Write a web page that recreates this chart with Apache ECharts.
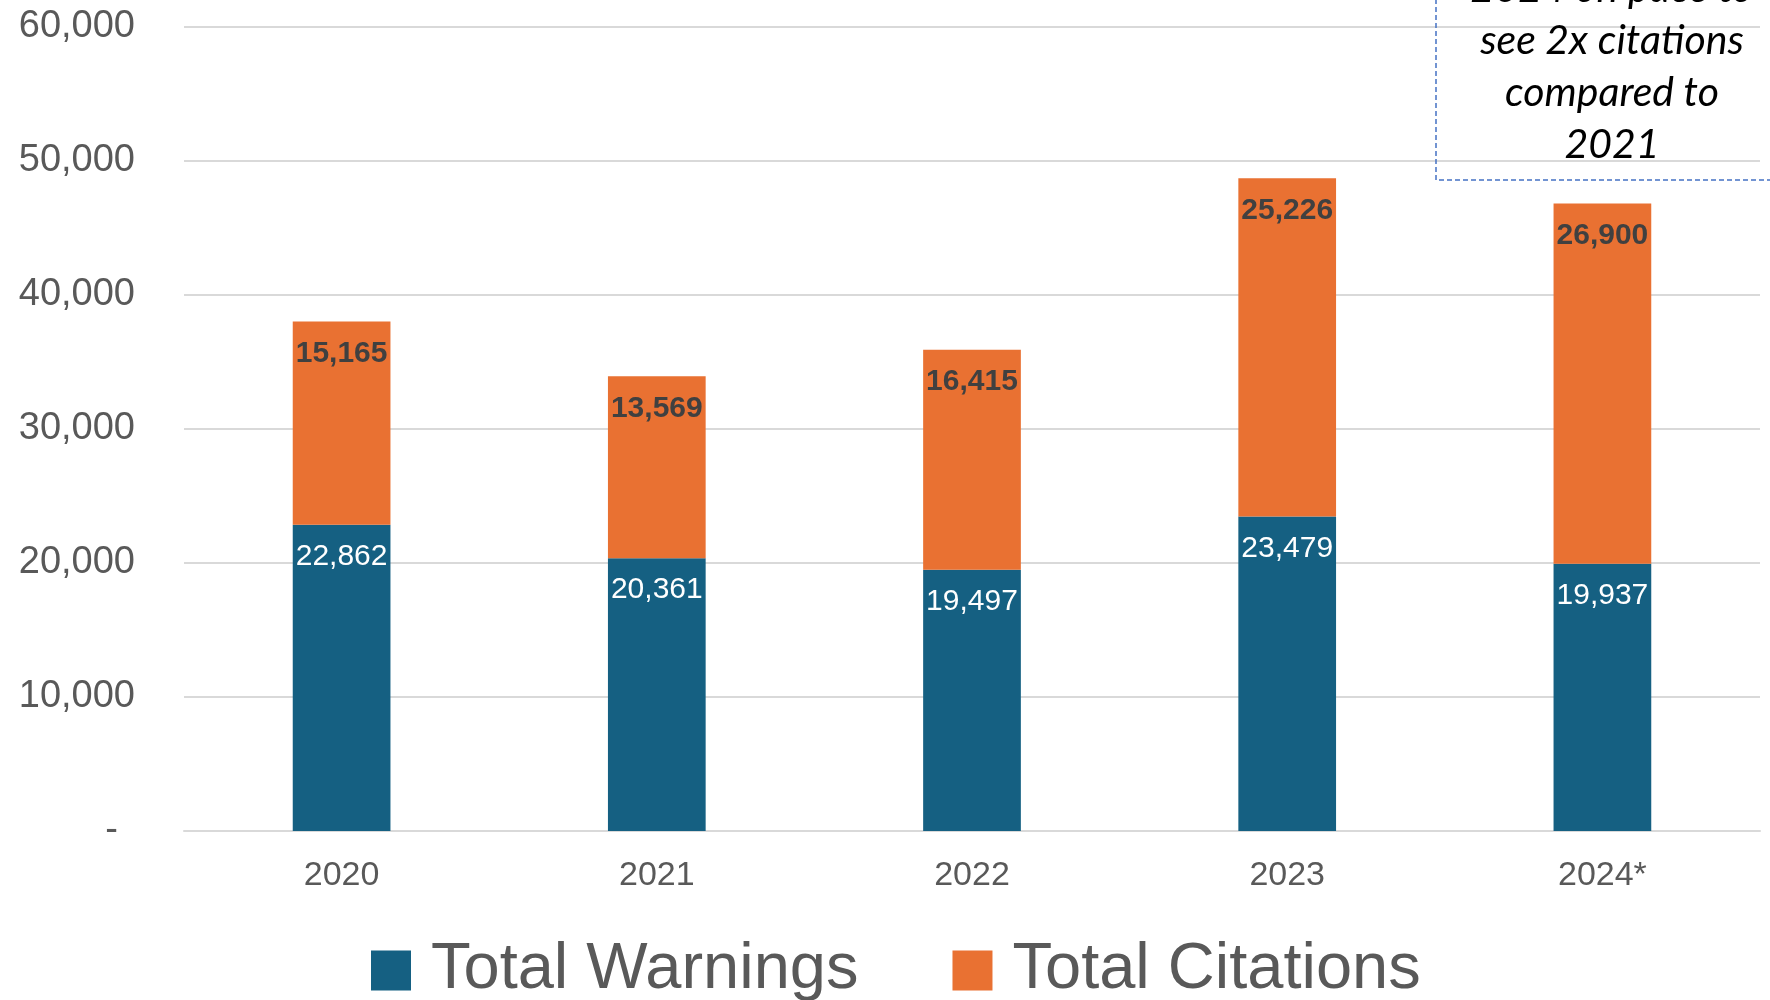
<!DOCTYPE html>
<html><head><meta charset="utf-8">
<script src="https://cdn.jsdelivr.net/npm/echarts@6/dist/echarts.min.js"></script>
<style>html,body{margin:0;padding:0;background:#fff}#c{width:1770px;height:1000px}</style>
</head><body><div id="c"></div>
<script>
const categories = ['2020','2021','2022','2023','2024*'];
const warnings = [22862, 20361, 19497, 23479, 19937];
const citations = [15165, 13569, 16415, 25226, 26900];
const yTicks = [0, 10000, 20000, 30000, 40000, 50000, 60000];
const noteLines = ['2024 on pace to', 'see 2x citations', 'compared to', '2021'];

const fmt = v => v.toLocaleString('en-US');
const chart = echarts.init(document.getElementById('c'));
chart.setOption({
  animation: false,
  backgroundColor: '#fff',
  grid: {left: 184, right: 10, top: 27, bottom: 169},
  legend: {
    left: 366, top: 933, itemWidth: 40, itemHeight: 40, itemGap: 94,
    icon: 'rect',
    textStyle: {fontFamily: 'Liberation Sans, Arial', fontSize: 65, color: '#595959', padding: [0,0,0,15]},
    data: ['Total Warnings', 'Total Citations']
  },
  xAxis: {
    type: 'category', data: categories,
    axisLine: {lineStyle: {color: '#d9d9d9', width: 2}},
    axisTick: {show: false},
    axisLabel: {color: '#595959', fontFamily: 'Liberation Sans, Arial', fontSize: 34, margin: 28}
  },
  yAxis: {
    type: 'value', min: yTicks[0], max: yTicks[yTicks.length-1], interval: 10000,
    axisLine: {show: false}, axisTick: {show: false},
    splitLine: {lineStyle: {color: '#d9d9d9', width: 2}},
    axisLabel: {
      color: '#595959', fontFamily: 'Liberation Sans, Arial', fontSize: 38, margin: 49,
      formatter: v => v === 0 ? '{d|-}' : fmt(v),
      rich: {d: {color: '#595959', fontSize: 38, fontFamily: 'Liberation Sans, Arial', padding: [0,17,0,0]}}
    }
  },
  series: [
    {
      name: 'Total Warnings', type: 'bar', stack: 's', barWidth: '31%', data: warnings,
      itemStyle: {color: '#156082'},
      label: {show: true, position: 'insideTop', distance: 17, color: '#fff',
        fontFamily: 'Liberation Sans, Arial', fontSize: 30, formatter: p => fmt(p.value)}
    },
    {
      name: 'Total Citations', type: 'bar', stack: 's', barWidth: '31%', data: citations,
      itemStyle: {color: '#E97132'},
      label: {show: true, position: 'insideTop', distance: 17, color: '#404040', fontWeight: 'bold',
        fontFamily: 'Liberation Sans, Arial', fontSize: 30, formatter: p => fmt(p.value)}
    }
  ],
  graphic: [
    {type: 'rect', shape: {x: 1436, y: -100, width: 400, height: 280},
     style: {fill: 'rgba(255,255,255,0)', stroke: '#4472C4', lineWidth: 1.5, lineDash: [5,3]}, z: 100},
    {type: 'text', x: 1612, y: -37, z: 101,
     style: {text: noteLines.join('\n'), fill: '#000', font: 'italic 41px Lato, "Open Sans", sans-serif',
       textAlign: 'center', textVerticalAlign: 'top', lineHeight: 52}}
  ]
});
</script></body></html>
